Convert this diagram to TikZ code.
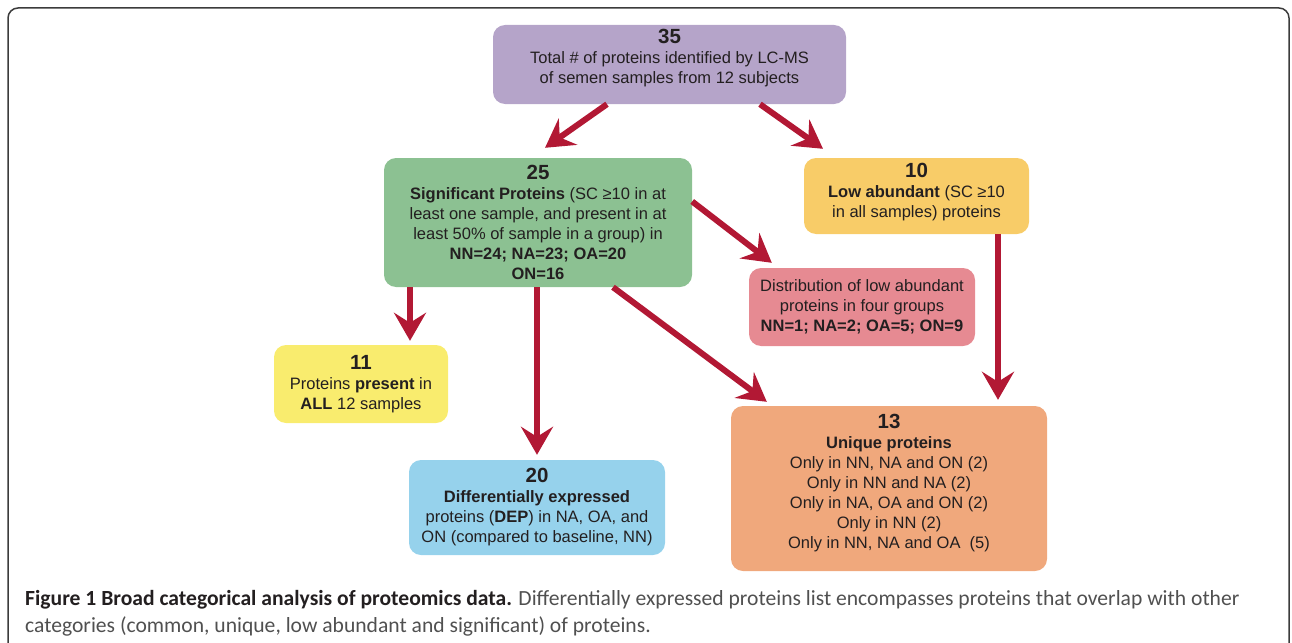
\documentclass[tikz,border=0pt]{standalone}
\usepackage{fontspec}
\setmainfont{Liberation Sans}
\newfontfamily\capfont{Carlito}
\usetikzlibrary{arrows.meta}
\definecolor{ink}{RGB}{35,31,32}
\definecolor{capgray}{RGB}{80,80,80}
\definecolor{framegray}{RGB}{60,60,60}
\definecolor{arrowred}{RGB}{178,24,52}
\definecolor{purplebox}{RGB}{181,164,201}
\definecolor{greenbox}{RGB}{140,193,146}
\definecolor{goldbox}{RGB}{248,204,104}
\definecolor{pinkbox}{RGB}{230,138,146}
\definecolor{yellowbox}{RGB}{249,236,110}
\definecolor{bluebox}{RGB}{150,210,236}
\definecolor{orangebox}{RGB}{240,168,124}
\newcommand{\bignum}[1]{{\fontsize{20.5}{22}\selectfont\bfseries #1}}
\newcommand{\lowpad}[1]{\rule[-#1]{0pt}{#1}}

\begin{document}
\begin{tikzpicture}[x=1pt,y=-1pt,
  box/.style={rounded corners=12pt,align=center,inner sep=0pt,text=ink,font=\fontsize{16.5}{20}\selectfont},
  arr/.style={line width=6pt,draw=arrowred,-{Stealth[length=28pt,width=32pt,inset=10pt]}}]
\useasboundingbox (0,0) rectangle (1292,642);
\begin{scope}
\clip (0,0) rectangle (1292,642);
\draw[rounded corners=10pt,line width=1.5pt,framegray] (8,8) rectangle (1289,690);
\end{scope}
% boxes
\node[box,fill=purplebox,minimum width=353pt,minimum height=79pt] (total) at (669.5,64.5)
  {\bignum{35}\\Total \# of proteins identified by LC-MS\\of semen samples from 12 subjects\lowpad{17pt}};
\node[box,fill=greenbox,minimum width=308pt,minimum height=129pt] (sig) at (538,222.5)
  {\bignum{25}\\\textbf{Significant Proteins} (SC ≥10 in at\\least one sample, and present in at\\least 50\% of sample in a group) in\\\textbf{NN=24; NA=23; OA=20}\\\textbf{ON=16}};
\node[box,fill=goldbox,minimum width=225pt,minimum height=76pt] (low) at (916.5,196)
  {\bignum{10}\\\textbf{Low abundant} (SC ≥10\\in all samples) proteins\lowpad{12pt}};
\node[box,fill=pinkbox,minimum width=226pt,minimum height=78pt] (dist) at (862,307)
  {Distribution of low abundant\\proteins in four groups\\\textbf{NN=1; NA=2; OA=5; ON=9}};
\node[box,fill=yellowbox,minimum width=174pt,minimum height=78pt] (all) at (361,384)
  {\bignum{11}\\Proteins \textbf{present} in\\\textbf{ALL} 12 samples};
\node[box,fill=bluebox,minimum width=256pt,minimum height=95pt] (dep) at (537,507.5)
  {\bignum{20}\\\textbf{Differentially expressed}\\proteins (\textbf{DEP}) in NA, OA, and\\ON (compared to baseline, NN)};
\node[box,fill=orangebox,minimum width=316pt,minimum height=165pt] (uniq) at (889,488.5)
  {\bignum{13}\\\textbf{Unique proteins}\\Only in NN, NA and ON (2)\\Only in NN and NA (2)\\Only in NA, OA and ON (2)\\Only in NN (2)\\Only in NN, NA and OA\ \ (5)\lowpad{14pt}};
% arrows
\draw[arr] ([xshift=-62.5pt]total.south) -- ([xshift=7pt,yshift=10pt]sig.north);
\draw[arr] ([xshift=90.5pt]total.south) -- ([xshift=-93.5pt,yshift=9pt]low.north);
\draw[arr] ([xshift=-128pt]sig.south) -- ([xshift=49pt,yshift=4pt]all.north);
\draw[arr] (dep.north |- sig.south) -- ([yshift=5pt]dep.north);
\draw[arr] ([xshift=75pt]sig.south) -- ([xshift=36pt,yshift=4pt]uniq.north west);
\draw[arr] ([yshift=21pt]sig.east) -- ([xshift=23pt,yshift=5pt]dist.north west);
\draw[arr,shorten >=6pt] ([xshift=81.5pt]low.south) -- ([xshift=81.5pt]low.south |- uniq.north);
% caption
\node[anchor=base west,align=left,inner sep=0pt,text=capgray,font=\capfont\fontsize{21.6}{27}\selectfont] (cap) at (25,632)
  {{\bfseries\color{ink}Figure 1 Broad categorical analysis of proteomics data.} Differentially expressed proteins list encompasses proteins that overlap with other\\categories (common, unique, low abundant and significant) of proteins.};
\end{tikzpicture}
\end{document}
